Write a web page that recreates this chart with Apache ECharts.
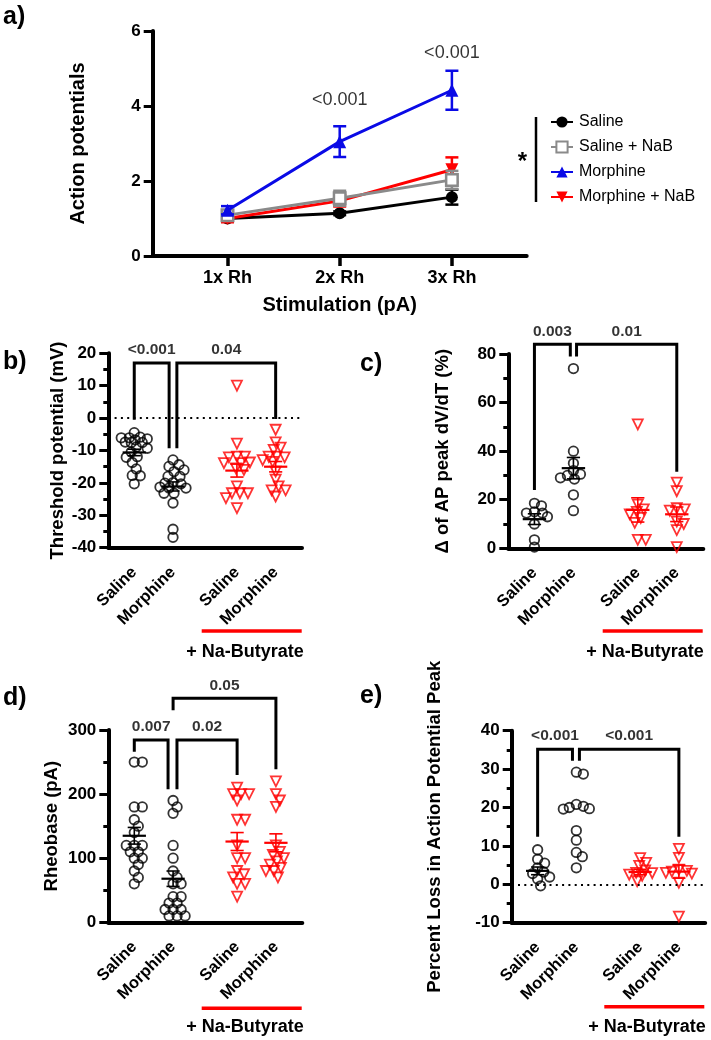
<!DOCTYPE html>
<html><head><meta charset="utf-8">
<script src="https://cdn.jsdelivr.net/npm/echarts@6/dist/echarts.min.js"></script>
<style>html,body{margin:0;padding:0;background:#fff}#c{width:711px;height:1040px}</style>
</head><body><div id="c"></div>
<script>
// ---------- Panel a: action potentials vs stimulation ----------
const stimCategories = ['1x Rh', '2x Rh', '3x Rh'];
const stimPos = [1, 2, 3];
const salineAP = [1.00, 1.14, 1.57];
const salineAPErr = [0.06, 0.05, 0.20];
const salineNaBAP = [1.09, 1.54, 2.03];
const salineNaBAPErr = [0.13, 0.20, 0.24];
const morphineAP = [1.22, 3.05, 4.42];
const morphineAPErr = [0.11, 0.41, 0.52];
const morphineNaBAP = [1.00, 1.47, 2.30];
const morphineNaBAPErr = [0.10, 0.15, 0.33];
const pTextA = ['<0.001', '<0.001'];
const pPosA = [[2, 4.16], [3, 5.40]];

// ---------- shared group axis ----------
const groupLabels = ['Saline', 'Morphine', 'Saline', 'Morphine'];
const groupPos = [1, 2, 3.65, 4.65];

// ---------- Panel b: threshold potential (mV) ----------
const thrSaline = [-4.5, -5.9, -6.1, -6.1, -6.4, -7.5, -7.4, -7.5, -6.7, -8.9, -9.3, -10.5, -12.1, -11.9, -13.7, -15.7, -17.7, -17.8, -20.3];
const thrMorphine = [-12.9, -14.4, -14.9, -16.5, -16.0, -18.0, -18.0, -20.1, -19.9, -20.3, -21.6, -21.6, -21.3, -23.2, -23.2, -26.2, -34.3, -36.8];
const thrSalineNaB = [10.0, -7.9, -11.9, -11.9, -12.1, -13.7, -13.9, -13.9, -15.5, -16.0, -21.1, -23.2, -23.2, -23.2, -24.7, -27.8];
const thrMorphineNaB = [-3.6, -7.5, -9.8, -9.1, -12.1, -11.9, -11.9, -13.0, -13.5, -16.5, -19.0, -21.1, -22.3, -22.3, -24.2];
const thrMean = [-10.6, -21.1, -16.2, -15.0];
const thrSem = [1.0, 1.4, 2.0, 1.6];
const thrBrackets = [[1, 1.9, -0.5, -9.3, 17], [2.1, 4.65, -9.3, -0.3, 17]];
const thrBracketText = ['<0.001', '0.04'];

// ---------- Panel c: delta of AP peak dV/dT (%) ----------
const dvSaline = [0.5, 3.5, 10, 13, 14.5, 14.5, 15, 17.5, 18.5];
const dvMorphine = [74, 40, 35, 32, 30, 29, 28.5, 30.5, 22, 15.5];
const dvSalineNaB = [51, 18, 16, 15, 14, 12.5, 10.5, 3.5, 3.5];
const dvMorphineNaB = [27, 23.5, 16.5, 16, 15.5, 11, 10, 7.5, 0.5];
const dvMean = [12.0, 33.0, 15.8, 14.0];
const dvSem = [2.2, 4.4, 5.0, 3.0];
const dvBrackets = [[1, 1.92, 24, 79, 84], [2.08, 4.65, 79, 31.5, 84]];
const dvBracketText = ['0.003', '0.01'];

// ---------- Panel d: rheobase (pA) ----------
const rhSaline = [250, 250, 180, 180, 160, 150, 140, 120, 120, 120, 110, 110, 100, 100, 90, 80, 70, 60];
const rhMorphine = [190, 180, 170, 120, 100, 80, 70, 60, 60, 40, 40, 30, 30, 20, 20, 20, 10, 10, 10];
const rhSalineNaB = [210, 200, 200, 200, 190, 160, 160, 120, 100, 100, 80, 75, 70, 60, 60, 40];
const rhMorphineNaB = [220, 200, 190, 180, 120, 110, 105, 100, 95, 90, 85, 80, 80, 70];
const rhMean = [135, 68, 126, 124];
const rhSem = [13, 12, 14, 14];
const rhBrackets = [[1, 1.87, 266, 207.5, 284.4], [2.1, 3.65, 207.5, 229.8, 284.4], [2, 4.65, 331, 238.7, 349.5]];
const rhBracketText = ['0.007', '0.02', '0.05'];

// ---------- Panel e: percent loss in AP peak ----------
const plSaline = [9.0, 6.5, 5.5, 4.3, 3.2, 2.8, 1.9, 1.4, -0.4];
const plMorphine = [29.2, 28.7, 20.8, 20.3, 20.0, 19.7, 19.6, 14.0, 11.5, 8.3, 7.2, 4.3];
const plSalineNaB = [6.8, 5.6, 4.8, 3.6, 3.0, 2.9, 2.5, 2.2, 0.8];
const plMorphineNaB = [9.2, 6.9, 3.8, 3.5, 3.3, 3.0, 2.8, 0.4, -8.4];
const plMean = [3.5, null, 3.2, 3.3];
const plSem = [1.0, null, 0.7, 1.7];
const plBrackets = [[1, 1.9, 12.4, 32.2, 35.2], [2.08, 4.65, 32.2, 12.4, 35.2]];
const plBracketText = ['<0.001', '<0.001'];

// ================= drawing =================
const FONT = "'Liberation Sans', Arial, Helvetica, sans-serif";
const BLACK = '#000000', RED = '#ff0000', BLUE = '#0a0ae6', GRAY = '#8a8a8a';
const chart = echarts.init(document.getElementById('c'));

const G = {
  a: {left: 152.7, top: 31, width: 374, height: 225},
  b: {left: 108.3, top: 353.3, width: 193.7, height: 194.4},
  c: {left: 508.3, top: 354, width: 195, height: 194.3},
  d: {left: 108.3, top: 730, width: 194, height: 192.3},
  e: {left: 511.7, top: 730.7, width: 193.5, height: 192}
};
const XMIN = 0.33, XMAX = 5.33;

function yAxis(gi, min, max, interval, name, nameGap, minor, nameSize) {
  return {
    type: 'value', gridIndex: gi, min, max, interval, name, nameLocation: 'middle', nameGap,
    nameTextStyle: {fontFamily: FONT, fontWeight: 'bold', fontSize: nameSize || 18.5, color: BLACK},
    axisLine: {show: true, onZero: false, lineStyle: {color: BLACK, width: 4}},
    axisTick: {show: true, length: 9, lineStyle: {width: 3, color: BLACK}},
    minorTick: {show: minor, splitNumber: 2, length: 5, lineStyle: {width: 3, color: BLACK}},
    axisLabel: {fontFamily: FONT, fontWeight: 'bold', fontSize: 17, color: BLACK, margin: 12},
    splitLine: {show: false}
  };
}
function xGroupAxis(gi) {
  return {
    type: 'value', gridIndex: gi, min: XMIN, max: XMAX,
    axisLine: {show: true, onZero: false, lineStyle: {color: BLACK, width: 4}},
    axisTick: {show: false}, splitLine: {show: false},
    axisLabel: {customValues: groupPos, rotate: 45, margin: 22, fontFamily: FONT, fontWeight: 'bold',
      fontSize: 16.5, color: BLACK, formatter: v => groupLabels[groupPos.indexOf(v)] || ''}
  };
}

// deterministic compact swarm layout (horizontal spread only)
function swarm(values, center, g, ymin, ymax, d) {
  const pxX = g.width / (XMAX - XMIN), pxY = g.height / (ymax - ymin);
  const order = values.map((v, i) => i).sort((a, b) => values[b] - values[a]);
  const cands = [0];
  for (let k = 1; k <= 13; k++) { cands.push(k * 0.1 * d); cands.push(-k * 0.1 * d); }
  const placed = [], out = new Array(values.length);
  order.forEach(i => {
    const y = values[i] * pxY;
    let best = null, bestD = -1;
    for (const off of cands) {
      const md = placed.reduce((m, p) => Math.min(m, Math.hypot(p[0] - off, p[1] - y)), Infinity);
      if (md >= d * 0.72) { best = off; break; }
      if (md > bestD) { bestD = md; best = off; }
    }
    placed.push([best, y]);
    out[i] = [center + best / pxX, values[i]];
  });
  return out;
}

const series = [];
const groupColors = [BLACK, BLACK, RED, RED];

function addDotPanel(gi, g, ymin, ymax, groups, means, sems, brackets, btext, zeroLine) {
  groups.forEach((vals, i) => {
    const red = i >= 2;
    series.push({
      type: 'scatter', xAxisIndex: gi, yAxisIndex: gi, silent: true, clip: false,
      data: swarm(vals, groupPos[i], g, ymin, ymax, 10),
      symbol: red ? 'triangle' : 'circle', symbolRotate: red ? 180 : 0,
      symbolSize: red ? 10 : 9.5,
      itemStyle: {color: 'rgba(255,255,255,0)', borderColor: groupColors[i], borderWidth: 1.8},
      z: 3,
      markLine: (zeroLine && i === 0) ? {silent: true, symbol: 'none', label: {show: false},
        lineStyle: {type: [2, 4.3], color: BLACK, width: 2}, data: [{yAxis: 0}]} : undefined
    });
  });
  series.push({
    type: 'custom', xAxisIndex: gi, yAxisIndex: gi, silent: true, z: 4,
    data: groupPos.map((p, i) => [p, means[i], sems[i], i]).filter(r => r[1] !== null),
    renderItem: (params, api) => {
      const x = api.value(0), m = api.value(1), s = api.value(2), col = groupColors[api.value(3)];
      const c = api.coord([x, m]), t = api.coord([x, m + s]), b = api.coord([x, m - s]);
      const w = api.size([0.3, 0])[0], cw = api.size([0.17, 0])[0];
      return {type: 'group', children: [
        {type: 'line', shape: {x1: c[0] - w, y1: c[1], x2: c[0] + w, y2: c[1]}, style: {stroke: col, lineWidth: 2.2}},
        {type: 'line', shape: {x1: c[0], y1: t[1], x2: c[0], y2: b[1]}, style: {stroke: col, lineWidth: 1.6}},
        {type: 'line', shape: {x1: c[0] - cw, y1: t[1], x2: c[0] + cw, y2: t[1]}, style: {stroke: col, lineWidth: 1.6}},
        {type: 'line', shape: {x1: c[0] - cw, y1: b[1], x2: c[0] + cw, y2: b[1]}, style: {stroke: col, lineWidth: 1.6}}
      ]};
    }
  });
  brackets.forEach((br, k) => {
    series.push({
      type: 'line', xAxisIndex: gi, yAxisIndex: gi, silent: true, clip: false, symbol: 'none', z: 5,
      lineStyle: {color: BLACK, width: 3, join: 'miter', cap: 'butt'},
      data: [[br[0], br[2]], [br[0], br[4]], [br[1], br[4]], [br[1], br[3]]]
    });
    series.push({
      type: 'scatter', xAxisIndex: gi, yAxisIndex: gi, silent: true, clip: false, symbolSize: 0, z: 5,
      data: [[(br[0] + br[1]) / 2, br[4]]],
      label: {show: true, position: 'top', distance: 5, formatter: btext[k],
        fontFamily: FONT, fontWeight: 'bold', fontSize: 15.5, color: BLACK}
    });
  });
}

// Panel a series
const aDefs = [
  {name: 'Saline', v: salineAP, e: salineAPErr, color: BLACK, symbol: 'circle', size: 12, fill: BLACK, rot: 0, z: 2},
  {name: 'Morphine + NaB', v: morphineNaBAP, e: morphineNaBAPErr, color: RED, symbol: 'triangle', size: 13, fill: RED, rot: 180, z: 3},
  {name: 'Saline + NaB', v: salineNaBAP, e: salineNaBAPErr, color: GRAY, symbol: 'rect', size: 11.5, fill: '#ffffff', rot: 0, z: 4},
  {name: 'Morphine', v: morphineAP, e: morphineAPErr, color: BLUE, symbol: 'triangle', size: 13, fill: BLUE, rot: 0, z: 5}
];
aDefs.forEach(d => {
  series.push({
    type: 'custom', name: d.name + ' err', xAxisIndex: 0, yAxisIndex: 0, silent: true, z: d.z,
    data: stimPos.map((p, i) => [p, d.v[i], d.e[i]]),
    renderItem: (params, api) => {
      const x = api.value(0), m = api.value(1), e = api.value(2);
      const t = api.coord([x, m + e]), b = api.coord([x, m - e]);
      const hw = 6.5, st = {stroke: d.color, lineWidth: 2.5};
      return {type: 'group', children: [
        {type: 'line', shape: {x1: t[0], y1: t[1], x2: b[0], y2: b[1]}, style: st},
        {type: 'line', shape: {x1: t[0] - hw, y1: t[1], x2: t[0] + hw, y2: t[1]}, style: st},
        {type: 'line', shape: {x1: b[0] - hw, y1: b[1], x2: b[0] + hw, y2: b[1]}, style: st}
      ]};
    }
  });
  series.push({
    type: 'line', name: d.name, xAxisIndex: 0, yAxisIndex: 0, z: d.z,
    data: stimPos.map((p, i) => [p, d.v[i]]),
    symbol: d.symbol, symbolSize: d.size, symbolRotate: d.rot, showSymbol: true,
    lineStyle: {color: d.color, width: 3},
    itemStyle: {color: d.fill, borderColor: d.color, borderWidth: d.fill === '#ffffff' ? 2.5 : 0}
  });
});
series.push({
  type: 'scatter', xAxisIndex: 0, yAxisIndex: 0, silent: true, clip: false, symbolSize: 0,
  data: pPosA,
  label: {show: true, position: 'inside', formatter: p => pTextA[p.dataIndex],
    fontFamily: FONT, fontSize: 18, color: BLACK}
});

addDotPanel(1, G.b, -40, 20, [thrSaline, thrMorphine, thrSalineNaB, thrMorphineNaB], thrMean, thrSem, thrBrackets, thrBracketText, true);
addDotPanel(2, G.c, 0, 80, [dvSaline, dvMorphine, dvSalineNaB, dvMorphineNaB], dvMean, dvSem, dvBrackets, dvBracketText, false);
addDotPanel(3, G.d, 0, 300, [rhSaline, rhMorphine, rhSalineNaB, rhMorphineNaB], rhMean, rhSem, rhBrackets, rhBracketText, false);
addDotPanel(4, G.e, -10, 40, [plSaline, plMorphine, plSalineNaB, plMorphineNaB], plMean, plSem, plBrackets, plBracketText, true);

function naButyrate(x1, x2, y, tx, ty) {
  return [
    {type: 'line', shape: {x1, y1: y, x2, y2: y}, style: {stroke: RED, lineWidth: 3.5}},
    {type: 'text', x: tx, y: ty, style: {text: '+ Na-Butyrate', fontFamily: FONT, fontWeight: 'bold', fontSize: 18,
      fill: BLACK, textAlign: 'center', textVerticalAlign: 'middle'}}
  ];
}
function letter(t, x, y) {
  return {type: 'text', x, y, style: {text: t, fontFamily: FONT, fontWeight: 'bold', fontSize: 25, fill: BLACK,
    textAlign: 'left', textVerticalAlign: 'middle'}};
}

chart.setOption({
  animation: false,
  backgroundColor: '#ffffff',
  grid: [G.a, G.b, G.c, G.d, G.e].map(g => Object.assign({containLabel: false}, g)),
  xAxis: [
    {type: 'value', gridIndex: 0, min: 1 / 3, max: 11 / 3, name: 'Stimulation (pA)', nameLocation: 'middle', nameGap: 39,
      nameTextStyle: {fontFamily: FONT, fontWeight: 'bold', fontSize: 20, color: BLACK},
      axisLine: {show: true, onZero: false, lineStyle: {color: BLACK, width: 4}},
      axisTick: {show: true, customValues: stimPos, length: 10, lineStyle: {width: 3.5, color: BLACK}},
      axisLabel: {customValues: stimPos, margin: 13, fontFamily: FONT, fontWeight: 'bold', fontSize: 18, color: BLACK,
        formatter: v => stimCategories[stimPos.indexOf(v)] || ''},
      splitLine: {show: false}},
    xGroupAxis(1), xGroupAxis(2), xGroupAxis(3), xGroupAxis(4)
  ],
  yAxis: [
    yAxis(0, 0, 6, 2, 'Action potentials', 64, false, 20),
    yAxis(1, -40, 20, 10, 'Threshold potential (mV)', 41, true),
    yAxis(2, 0, 80, 20, 'Δ of AP peak dV/dT (%)', 56, true),
    yAxis(3, 0, 300, 100, 'Rheobase (pA)', 47, true),
    yAxis(4, -10, 40, 10, 'Percent Loss in Action Potential Peak', 67, true)
  ],
  legend: {
    data: ['Saline', 'Saline + NaB', 'Morphine', 'Morphine + NaB'], orient: 'vertical', left: 545, top: 109,
    itemWidth: 22, itemHeight: 14, itemGap: 9, selectedMode: false,
    textStyle: {fontFamily: FONT, fontSize: 16, color: BLACK, padding: [0, 0, 0, 1]}
  },
  graphic: [
    letter('a)', 3, 17), letter('b)', 3, 362), letter('c)', 360, 364), letter('d)', 3, 698), letter('e)', 360, 696),
    {type: 'line', shape: {x1: 536, y1: 117, x2: 536, y2: 202}, style: {stroke: BLACK, lineWidth: 2.5}},
    {type: 'text', x: 522.5, y: 162, style: {text: '*', fontFamily: FONT, fontWeight: 'bold', fontSize: 24, fill: BLACK,
      textAlign: 'center', textVerticalAlign: 'middle'}},
    ...naButyrate(201.7, 301.7, 631, 245, 652),
    ...naButyrate(602.7, 702.7, 631, 645, 652),
    ...naButyrate(201.7, 301.7, 1008.3, 245, 1027),
    ...naButyrate(604.3, 704.3, 1006.7, 647, 1027)
  ],
  series
});
</script></body></html>
